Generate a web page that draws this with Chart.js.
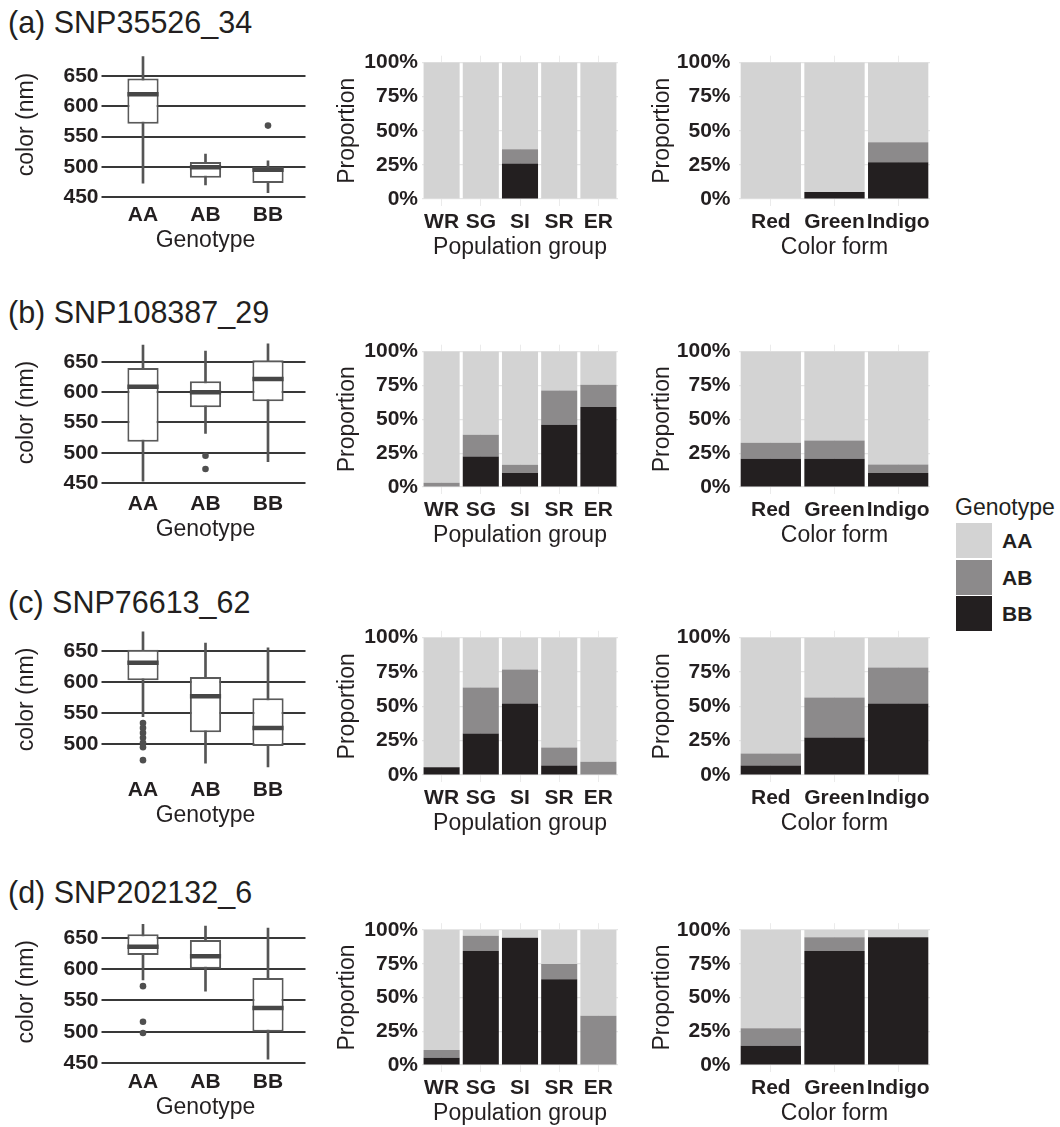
<!DOCTYPE html>
<html>
<head>
<meta charset="utf-8">
<script src="https://cdn.jsdelivr.net/npm/chart.js@4.4.1/dist/chart.umd.min.js"></script>
<style>
    body { margin: 0; background: #fff; }
    #fig { position: relative; width: 1060px; height: 1127px; overflow: hidden;
           font-family: 'Liberation Sans', Arial, sans-serif; color: #231f20; }
    #fig canvas { position: absolute; }
    .row-title { position: absolute; left: 8px; font-size: 30.5px; line-height: 30.5px; white-space: nowrap; }
    .legend-title { position: absolute; font-size: 23px; line-height: 23px; white-space: nowrap; }
    .legend-key { position: absolute; width: 36px; height: 35px; }
    .legend-label { position: absolute; font-size: 21px; line-height: 21px; font-weight: bold; }
</style>
</head>
<body>
<div id="fig"></div>
<script>
const genotypes = ['AA', 'AB', 'BB'];
const genotypeColors = ['#d3d3d3', '#8c8a8b', '#231f20'];
const populationGroups = ['WR', 'SG', 'SI', 'SR', 'ER'];
const colorForms = ['Red', 'Green', 'Indigo'];
const snpTitles = ['(a) SNP35526_34', '(b) SNP108387_29', '(c) SNP76613_62', '(d) SNP202132_6'];

// boxplot statistics of color (nm), one row per SNP, columns AA / AB / BB
const whiskerLow = [[473, 470, 457], [453, 532, 485], [544, 469, 463], [583, 565, 456]];
const lowerQuartile = [[571, 482, 473], [518, 575, 585], [603, 519, 497], [623, 601, 500]];
const medians = [[620, 499, 495], [609, 600, 622], [631, 577, 526], [636, 621, 538]];
const upperQuartile = [[646, 508, 500], [640, 618, 653], [652, 608, 574], [656, 647, 586]];
const whiskerHigh = [[682, 521, 510], [678, 668, 680], [681, 663, 655], [672, 669, 666]];
const outliers = [
    [[], [], [568]],
    [[], [495, 473], []],
    [[534, 526, 518, 510, 502, 495, 474], [], []],
    [[573, 516, 498], [], []],
];
const colorTicks = [
    [450, 500, 550, 600, 650],
    [450, 500, 550, 600, 650],
    [500, 550, 600, 650],
    [450, 500, 550, 600, 650],
];
const colorRange = [[446.7, 693], [442, 691], [452, 692], [445, 683]];

// genotype proportions (%) per population group
const groupBB = [[0, 0, 26, 0, 0], [0, 22.6, 10.3, 45.9, 59], [5.6, 30.3, 52.1, 7, 0], [5.4, 84.4, 94.3, 63.5, 0]];
const groupAB = [[0, 0, 10.5, 0, 0], [3.2, 16, 6.2, 25.4, 16.4], [0, 33.4, 24.7, 13.1, 9.7], [5.7, 11.4, 0, 11.3, 36.5]];
const groupAA = [[100, 100, 63.5, 100, 100], [96.8, 61.4, 83.5, 28.7, 24.6], [94.4, 36.3, 23.2, 79.9, 90.3], [88.9, 4.2, 5.7, 25.2, 63.5]];

// genotype proportions (%) per color form
const formBB = [[0, 5.1, 27], [20.9, 20.9, 10.3], [7, 27.4, 52.1], [14.3, 84.4, 94.6]];
const formAB = [[0, 0, 14.6], [11.8, 13.5, 6.4], [8.7, 29, 26.1], [12.9, 10.2, 0]];
const formAA = [[100, 94.9, 58.4], [67.3, 65.6, 83.3], [84.3, 43.6, 21.8], [72.8, 5.4, 5.4]];

const percentTicks = [0, 12.5, 25, 37.5, 50, 62.5, 75, 87.5, 100];

// plot areas (pixels) for each row
const boxRows = [[50, 199], [337.2, 487.8], [625, 773.8], [917.4, 1066.1]];
const shareRows = [[55.7, 205.8], [344.7, 493.8], [630.8, 781.9], [923.2, 1071.8]];
const titleTops = [7.2, 297.2, 587.2, 877.2];

Chart.defaults.font.family = "'Liberation Sans', Arial, sans-serif";
Chart.defaults.color = '#231f20';

const fig = document.getElementById('fig');
const TICK_FONT = { size: 21, weight: 'bold' };
const TITLE_SIZE = 23;
const TITLE_LH = TITLE_SIZE * 1.2;
const XH = 42 + TITLE_LH / 2;
const TICK_PAD_X = 16 - TICK_FONT.size * 1.2 / 2;

const placeCanvas = (area, yTitleX) => {
    const left = Math.floor(yTitleX - TITLE_LH / 2);
    const top = Math.floor(area.top - 22);
    const width = Math.ceil(area.right + 5 - left);
    const height = Math.ceil(area.bottom + XH + 2 - top);
    const canvas = document.createElement('canvas');
    canvas.width = width;
    canvas.height = height;
    canvas.style.left = left + 'px';
    canvas.style.top = top + 'px';
    fig.appendChild(canvas);
    return {
        canvas,
        padding: {
            top: area.top - top,
            right: left + width - area.right,
            bottom: top + height - (area.bottom + XH),
            left: 0,
        },
        yWidth: area.left - left,
        titleOffset: yTitleX - left - TITLE_LH / 2,
    };
};

const baseOptions = (spot) => ({
    responsive: false,
    animation: false,
    events: [],
    layout: { padding: spot.padding, autoPadding: false },
    plugins: { legend: { display: false }, tooltip: { enabled: false } },
});

const fitX = (s) => {
    s.height = XH;
    s.paddingLeft = 0;
    s.paddingRight = 0;
};

const renderBoxplot = (i) => {
    const spot = placeCanvas({ left: 105.5, right: 305.5, top: boxRows[i][0], bottom: boxRows[i][1] }, 27);
    const xs = genotypes.map((g, k) => k + 1);
    new Chart(spot.canvas, {
        type: 'bar',
        data: {
            datasets: [
                {
                    type: 'scatter',
                    data: xs.map((x, k) => ({ x, y: medians[i][k] })),
                    pointStyle: 'line',
                    pointRadius: 15.6,
                    pointBorderWidth: 4.5,
                    pointBorderColor: '#474747',
                },
                {
                    type: 'scatter',
                    data: outliers[i].flatMap((vals, k) => vals.map(v => ({ x: k + 1, y: v }))),
                    pointRadius: 3.3,
                    pointBorderWidth: 0,
                    pointBackgroundColor: '#4f4f4f',
                },
                {
                    data: xs.map((x, k) => ({ x, y: [lowerQuartile[i][k], upperQuartile[i][k]] })),
                    backgroundColor: '#ffffff',
                    borderColor: '#5a5a5a',
                    borderWidth: 2,
                    borderSkipped: false,
                    grouped: false,
                    barPercentage: 0.5,
                    categoryPercentage: 1,
                },
                {
                    data: xs.map((x, k) => ({ x, y: [whiskerLow[i][k], whiskerHigh[i][k]] })),
                    backgroundColor: '#555555',
                    barThickness: 2,
                    grouped: false,
                },
            ],
        },
        options: {
            ...baseOptions(spot),
            scales: {
                x: {
                    type: 'linear',
                    min: 0.4,
                    max: 3.6,
                    offset: false,
                    afterBuildTicks: s => { s.ticks = xs.map(v => ({ value: v })); },
                    afterFit: fitX,
                    grid: { display: false, drawTicks: false },
                    border: { display: false },
                    ticks: { callback: v => genotypes[v - 1], padding: TICK_PAD_X, font: TICK_FONT, maxRotation: 0, autoSkip: false },
                    title: { display: true, text: 'Genotype', padding: 0, font: { size: TITLE_SIZE } },
                },
                y: {
                    min: colorRange[i][0],
                    max: colorRange[i][1],
                    afterBuildTicks: s => { s.ticks = colorTicks[i].map(v => ({ value: v })); },
                    afterFit: s => { s.width = spot.yWidth; },
                    grid: { color: '#383838', lineWidth: 2, tickLength: 4 },
                    border: { display: false },
                    ticks: { padding: 3, font: TICK_FONT },
                    title: { display: true, text: 'color (nm)', padding: { top: spot.titleOffset, bottom: 0 }, font: { size: TITLE_SIZE } },
                },
            },
        },
    });
};

const renderShares = (i, area, yTitleX, tickPad, barPct, labels, aa, ab, bb, xTitle) => {
    const spot = placeCanvas(area, yTitleX);
    const series = [bb, ab, aa];
    new Chart(spot.canvas, {
        type: 'bar',
        data: {
            labels,
            datasets: series.map((values, s) => ({
                label: genotypes[2 - s],
                data: values[i],
                backgroundColor: genotypeColors[2 - s],
                borderWidth: 0,
                barPercentage: barPct,
                categoryPercentage: 1,
            })),
        },
        options: {
            ...baseOptions(spot),
            scales: {
                x: {
                    stacked: true,
                    afterFit: fitX,
                    grid: { offset: false, color: '#ebebeb', lineWidth: 1, drawTicks: false },
                    border: { display: false },
                    ticks: { padding: TICK_PAD_X, font: TICK_FONT, maxRotation: 0, minRotation: 0, autoSkip: false },
                    title: { display: true, text: xTitle, padding: 0, font: { size: TITLE_SIZE } },
                },
                y: {
                    stacked: true,
                    min: -5,
                    max: 105,
                    afterBuildTicks: s => { s.ticks = percentTicks.map(v => ({ value: v })); },
                    afterFit: s => { s.width = spot.yWidth; },
                    grid: {
                        color: c => (c.tick && c.tick.value % 25 === 0 ? '#e6e6e6' : '#f2f2f2'),
                        lineWidth: c => (c.tick && c.tick.value % 25 === 0 ? 1.2 : 0.7),
                        drawTicks: false,
                    },
                    border: { display: false },
                    ticks: {
                        padding: tickPad,
                        font: TICK_FONT,
                        callback: v => (v % 25 === 0 ? v + '%' : ''),
                    },
                    title: { display: true, text: 'Proportion', padding: { top: spot.titleOffset, bottom: 0 }, font: { size: TITLE_SIZE } },
                },
            },
        },
    });
};

snpTitles.forEach((text, i) => {
    const div = document.createElement('div');
    div.className = 'row-title';
    div.style.top = titleTops[i] + 'px';
    div.textContent = text;
    fig.appendChild(div);

    renderBoxplot(i);
    const area = { top: shareRows[i][0], bottom: shareRows[i][1] };
    renderShares(i, { ...area, left: 422, right: 618 }, 348, 4, 0.92,
        populationGroups, groupAA, groupAB, groupBB, 'Population group');
    renderShares(i, { ...area, left: 739, right: 930 }, 663, 8.5, 0.947,
        colorForms, formAA, formAB, formBB, 'Color form');
});

// shared legend
const legendTitle = document.createElement('div');
legendTitle.className = 'legend-title';
legendTitle.style.left = '955px';
legendTitle.style.top = '496px';
legendTitle.textContent = 'Genotype';
fig.appendChild(legendTitle);
genotypes.forEach((g, k) => {
    const top = 523 + k * 36.5;
    const key = document.createElement('div');
    key.className = 'legend-key';
    key.style.left = '956px';
    key.style.top = top + 'px';
    key.style.background = genotypeColors[k];
    fig.appendChild(key);
    const label = document.createElement('div');
    label.className = 'legend-label';
    label.style.left = '1002px';
    label.style.top = (top + 7) + 'px';
    label.textContent = g;
    fig.appendChild(label);
});
</script>
</body>
</html>
